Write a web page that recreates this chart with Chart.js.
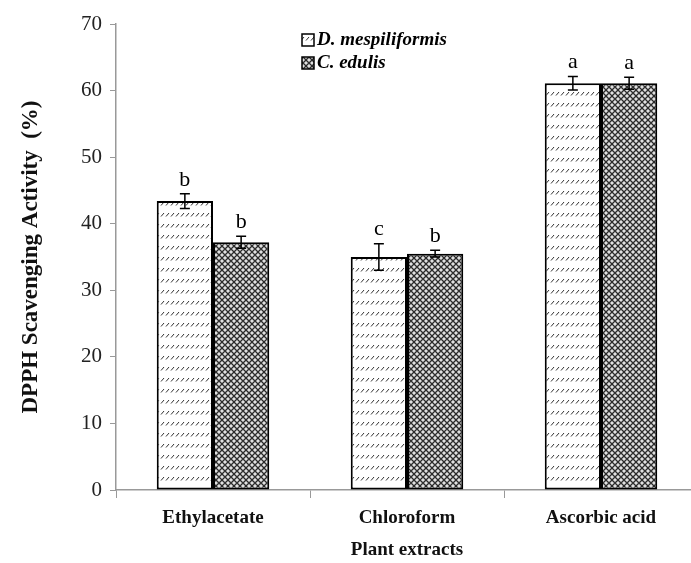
<!DOCTYPE html>
<html lang="en">
<head>
  <meta charset="utf-8" />
  <title>DPPH Scavenging Activity</title>
  <script src="https://cdn.jsdelivr.net/npm/chart.js"></script>
  <style>
    html, body { margin: 0; padding: 0; background: #fff; overflow: hidden; }
    #wrap { width: 691px; height: 563px; overflow: hidden; }
  </style>
</head>
<body>
  <div id="wrap">
    <canvas id="dpph" width="698" height="563"></canvas>
  </div>

  <script>
    const categories = ['Ethylacetate', 'Chloroform', 'Ascorbic acid'];
    const seriesNames = ['D. mespiliformis', 'C. edulis'];
    const mespiliformis = [43.4, 35.0, 61.1];
    const edulis = [37.2, 35.5, 61.1];
    const mespErr = [1.1, 2.0, 1.0];
    const eduErr = [0.9, 0.5, 0.9];
    const mespLetters = ['b', 'c', 'a'];
    const eduLetters = ['b', 'b', 'a'];
    const yMin = 0, yMax = 70, yStep = 10;

    const serif = "'Liberation Serif', 'DejaVu Serif', serif";

    // hatch: rows of small slashes on white
    function slashPattern() {
      const c = document.createElement('canvas');
      c.width = 5; c.height = 11;
      const g = c.getContext('2d');
      g.fillStyle = '#fff';
      g.fillRect(0, 0, 5, 11);
      g.strokeStyle = '#333';
      g.lineWidth = 1;
      g.beginPath();
      g.moveTo(1, 7.5);
      g.lineTo(4, 4);
      g.stroke();
      return g.createPattern(c, 'repeat');
    }

    // dense crosshatch
    function crossPattern() {
      const c = document.createElement('canvas');
      c.width = 6; c.height = 6;
      const g = c.getContext('2d');
      g.fillStyle = '#e0e0e0';
      g.fillRect(0, 0, 6, 6);
      g.strokeStyle = '#2a2a2a';
      g.lineWidth = 1.3;
      g.beginPath();
      g.moveTo(0, 0); g.lineTo(6, 6);
      g.moveTo(6, 0); g.lineTo(0, 6);
      g.stroke();
      g.fillStyle = '#444';
      g.fillRect(2.5, 2.5, 1, 1);
      return g.createPattern(c, 'repeat');
    }

    const patD = slashPattern();
    const patC = crossPattern();

    const errorBars = {
      id: 'errorBars',
      afterDatasetsDraw(chart) {
        const ctx = chart.ctx;
        const y = chart.scales.y;
        const errs = [mespErr, eduErr];
        const letters = [mespLetters, eduLetters];
        ctx.save();
        chart.data.datasets.forEach((ds, di) => {
          const meta = chart.getDatasetMeta(di);
          meta.data.forEach((bar, i) => {
            const v = ds.data[i], e = errs[di][i];
            const yt = y.getPixelForValue(v + e);
            const yb = y.getPixelForValue(v - e);
            const x = bar.x;
            ctx.strokeStyle = '#000';
            ctx.lineWidth = 1.5;
            ctx.beginPath();
            ctx.moveTo(x, yt); ctx.lineTo(x, yb);
            ctx.moveTo(x - 5, yt); ctx.lineTo(x + 5, yt);
            ctx.moveTo(x - 5, yb); ctx.lineTo(x + 5, yb);
            ctx.stroke();
            ctx.fillStyle = '#000';
            ctx.font = '22px ' + serif;
            ctx.textAlign = 'center';
            ctx.textBaseline = 'bottom';
            ctx.fillText(letters[di][i], x, yt - 3);
          });
        });
        ctx.restore();
      }
    };

    const boxLegend = {
      id: 'boxLegend',
      afterDraw(chart) {
        const ctx = chart.ctx;
        ctx.save();
        chart.data.datasets.forEach((ds, i) => {
          const bx = 302, by = 34 + i * 23;
          ctx.fillStyle = ds.backgroundColor;
          ctx.fillRect(bx, by, 12, 12);
          ctx.strokeStyle = '#000';
          ctx.lineWidth = 1.5;
          ctx.strokeRect(bx, by, 12, 12);
          ctx.fillStyle = '#000';
          ctx.font = 'italic bold 19px ' + serif;
          ctx.textAlign = 'left';
          ctx.textBaseline = 'middle';
          ctx.fillText(ds.label, bx + 15, by + 6);
        });
        ctx.restore();
      }
    };

    new Chart(document.getElementById('dpph').getContext('2d'), {
      type: 'bar',
      data: {
        labels: categories,
        datasets: [
          { label: seriesNames[0], data: mespiliformis, backgroundColor: patD,
            borderColor: '#000', borderWidth: 2, borderSkipped: false },
          { label: seriesNames[1], data: edulis, backgroundColor: patC,
            borderColor: '#000', borderWidth: 2, borderSkipped: false }
        ]
      },
      options: {
        responsive: false,
        animation: false,
        layout: { padding: { top: 24, right: 0, bottom: 0, left: 0 } },
        datasets: { bar: { categoryPercentage: 0.58, barPercentage: 1.0 } },
        plugins: { legend: { display: false }, tooltip: { enabled: false } },
        scales: {
          x: {
            afterFit: s => { s.height = 73; },
            grid: { drawOnChartArea: false, tickLength: 8, color: '#999' },
            border: { color: '#999', width: 1.5 },
            ticks: { color: '#111', padding: 9, font: { family: serif, size: 19, weight: 'bold' } },
            title: { display: true, text: 'Plant extracts', color: '#111',
                     padding: { top: 0, bottom: 2 },
                     font: { family: serif, size: 19, weight: 'bold' } }
          },
          y: {
            min: yMin, max: yMax,
            afterFit: s => { s.width = 116; },
            grid: { drawOnChartArea: false, tickLength: 6, color: '#999' },
            border: { color: '#999', width: 1.5 },
            ticks: { stepSize: yStep, color: '#222', padding: 8, font: { family: serif, size: 21 } },
            title: { display: true, text: 'DPPH Scavenging Activity  (%)', color: '#111',
                     padding: { top: 17, bottom: 0 },
                     font: { family: serif, size: 23, weight: 'bold' } }
          }
        }
      },
      plugins: [errorBars, boxLegend]
    });
  </script>
</body>
</html>
